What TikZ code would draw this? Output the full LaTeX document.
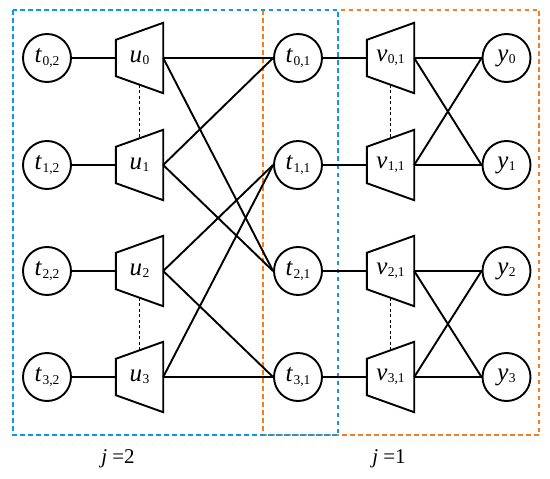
\documentclass[tikz,border=0pt]{standalone}
\usepackage{fontspec}
\setmainfont{Liberation Serif}
\definecolor{boxblue}{RGB}{20,150,225}
\definecolor{boxorange}{RGB}{245,125,30}
\newcommand{\lbl}[2]{\textit{#1}\kern0.5pt\raisebox{-2.5pt}{\fontsize{13.5}{15}\selectfont #2}}

\begin{document}
\begin{tikzpicture}[x=1pt, y=-1pt,
  every node/.style={font=\fontsize{25}{28}\selectfont},
  unit/.style={circle, draw, line width=1.9pt, minimum size=48pt, inner sep=0pt},
  layer/.style={rectangle, minimum width=47pt, minimum height=70pt, inner sep=0pt},
  trap/.style={draw, line width=1.9pt, line join=miter},
  link/.style={line width=1.9pt},
  tie/.style={line width=1.9pt, dash pattern=on 3pt off 2.5pt},
  frame/.style={line width=2.5pt, dash pattern=on 4.5pt off 3.5pt},
  stage/.style={font=\fontsize{21}{24}\selectfont}
]
\useasboundingbox (0,0) rectangle (550,479);
% the two stages
\draw[frame, boxorange] (263,10) rectangle (539,435);
\draw[frame, boxblue] (13,10) rectangle (338,435);

\foreach \i/\y in {0/58,1/165,2/271,3/377}{
  \node[unit] (t\i2) at (47,\y) {\lbl{t}{\i,2}};
  \node[layer] (u\i) at (139.5,\y) {\lbl{u}{\i}};
  \node[unit] (t\i1) at (298,\y) {\lbl{t}{\i,1}};
  \node[layer] (v\i) at (390.5,\y) {\lbl{v}{\i,1}};
  \node[unit] (y\i) at (506.5,\y) {\lbl{y}{\i}};
}
\foreach \n in {u0,u1,u2,u3,v0,v1,v2,v3}
  \draw[trap] (\n.north east) -- (\n.south east) -- ([yshift=17pt]\n.south west)
    -- ([yshift=-17pt]\n.north west) -- cycle;

\foreach \i in {0,...,3}{
  \draw[link] (t\i2) -- (u\i);
  \draw[link] (t\i1) -- (v\i);
}
% butterflies
\foreach \a/\b in {0/0,0/2,1/0,1/2,2/1,2/3,3/1,3/3}
  \draw[link] (u\a.east) -- (t\b1.west);
\foreach \a/\b in {0/0,0/1,1/0,1/1,2/2,2/3,3/2,3/3}
  \draw[link] (v\a.east) -- (y\b.west);

\foreach \a/\b in {u0/u1,u2/u3,v0/v1,v2/v3}
  \draw[tie] ([yshift=-26.5pt]\a.center) -- ([yshift=26.5pt]\b.center);

\node[stage] (j2) at (118,459) {\textit{j} =2};
\node[stage] (j1) at (389,459) {\textit{j} =1};
\end{tikzpicture}
\end{document}
